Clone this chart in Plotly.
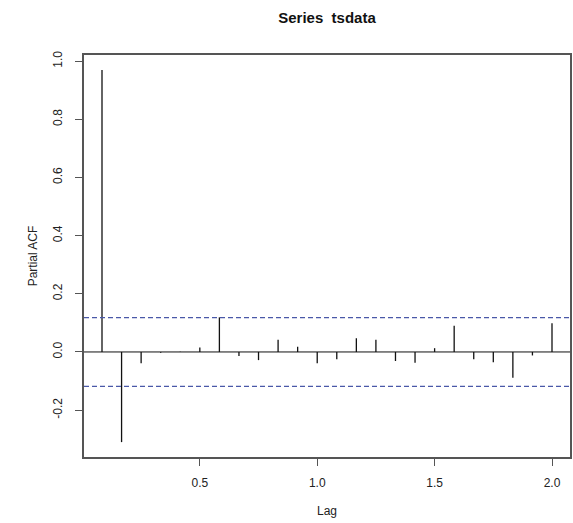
import plotly.graph_objects as go

# Data: partial autocorrelations at lags k/12, k = 1..24
lags = [k / 12 for k in range(1, 25)]
pacf = [0.970, -0.310, -0.039, -0.003, 0.001, 0.015, 0.119, -0.014,
        -0.028, 0.042, 0.018, -0.039, -0.025, 0.047, 0.042, -0.031,
        -0.037, 0.013, 0.090, -0.025, -0.035, -0.089, -0.012, 0.099]
ci = 0.118
x_ticks = [0.5, 1.0, 1.5, 2.0]
y_ticks = [-0.2, 0.0, 0.2, 0.4, 0.6, 0.8, 1.0]

xmin = lags[0] - 0.04 * (lags[-1] - lags[0])
xmax = lags[-1] + 0.04 * (lags[-1] - lags[0])
ylo = min(min(pacf), -ci)
yhi = max(max(pacf), ci)
ymin = ylo - 0.04 * (yhi - ylo)
ymax = yhi + 0.04 * (yhi - ylo)

# spikes
sx, sy = [], []
for l, v in zip(lags, pacf):
    sx += [l, l, None]
    sy += [0, v, None]

FONT = "Arial, Liberation Sans, sans-serif"
fig = go.Figure()
fig.add_trace(go.Scatter(x=sx, y=sy, mode="lines",
                         line=dict(color="#111111", width=1.3),
                         showlegend=False, hoverinfo="skip"))
# zero line
fig.add_trace(go.Scatter(x=[xmin, xmax], y=[0, 0], mode="lines",
                         line=dict(color="#111111", width=1),
                         showlegend=False, hoverinfo="skip"))
# confidence limits
for c in (ci, -ci):
    fig.add_trace(go.Scatter(x=[xmin, xmax], y=[c, c], mode="lines",
                             line=dict(color="#4a58a8", width=1.3, dash="5px,3px"),
                             showlegend=False, hoverinfo="skip"))

fig.update_layout(
    width=573, height=523,
    margin=dict(l=84, r=1, t=55, b=66),
    paper_bgcolor="white", plot_bgcolor="white",
    font=dict(family=FONT, size=12, color="#222222"),
    title=dict(text="<b>Series  tsdata</b>", x=0.5, xanchor="center",
               xref="paper", y=1 - 18 / 523, yanchor="middle",
               font=dict(size=15, color="#111111")),
    xaxis=dict(range=[xmin, xmax], tickvals=x_ticks,
               ticktext=[f"{t:.1f}" for t in x_ticks],
               showgrid=False, zeroline=False,
               showline=True, linecolor="#555555", linewidth=1.5, mirror=True,
               ticks="outside", ticklen=7, tickcolor="#555555",
               ticklabelstandoff=7,
               title=dict(text="Lag", standoff=17, font=dict(size=12))),
    yaxis=dict(range=[ymin, ymax], tickvals=y_ticks,
               ticktext=[f"{t:.1f}" for t in y_ticks],
               tickangle=-90,
               showgrid=False, zeroline=False,
               showline=True, linecolor="#555555", linewidth=1.5, mirror=True,
               ticks="outside", ticklen=7, tickcolor="#555555",
               ticklabelstandoff=8,
               title=dict(text="Partial ACF", standoff=11, font=dict(size=12))),
)

fig.write_html("out.html")
